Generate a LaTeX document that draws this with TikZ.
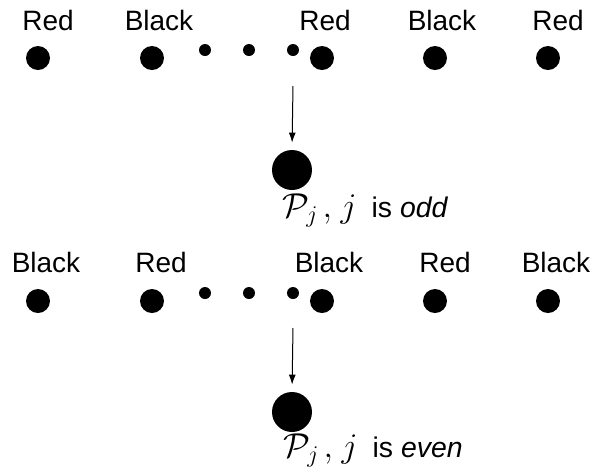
\documentclass[tikz,border=0pt]{standalone}
\usepackage{fontspec}
\setmainfont{Liberation Sans}
\usetikzlibrary{arrows.meta}
\tikzset{
  bigdot/.style={circle,fill=black,inner sep=0pt,minimum size=12pt},
  smalldot/.style={circle,fill=black,inner sep=0pt,minimum size=6pt},
  hugedot/.style={circle,fill=black,inner sep=0pt,minimum size=20pt},
  lbl/.style={anchor=base,inner sep=0pt,font=\fontsize{14pt}{17pt}\selectfont},
  caplbl/.style={anchor=base west,inner sep=0pt,font=\fontsize{14.2pt}{17pt}\selectfont},
  arr/.style={line width=0.5pt,-{Latex[length=5pt,width=3.5pt]},shorten >=3.5pt}
}
\newcommand{\pjlabel}{{\fontsize{17pt}{20pt}\selectfont$\mathcal{P}_j\hspace{2pt},\hspace{1.5pt}j$}\hspace{7.5pt}}
\begin{document}
\begin{tikzpicture}[x=0.5pt,y=-0.5pt]
\useasboundingbox (0,0) rectangle (591,468);
% top row
\node[lbl] (t1) at (48,30) {Red};
\node[lbl] (t2) at (159,30) {Black};
\node[lbl] (t3) at (325,30) {Red};
\node[lbl] (t4) at (442,30) {Black};
\node[lbl] (t5) at (558,30) {Red};
\node[bigdot] (a1) at (38,58) {};
\node[bigdot] (a2) at (152,58) {};
\node[bigdot] (a3) at (322,58) {};
\node[bigdot] (a4) at (435,58) {};
\node[bigdot] (a5) at (548,58) {};
\node[smalldot] (d1) at (205,50) {};
\node[smalldot] (d2) at (249,50) {};
\node[smalldot] (d3) at (293,50) {};
\coordinate (s1) at (293,86);
\node[hugedot] (P1) at (292,170) {};
\draw[arr] (s1) -- (P1.north);
\node[caplbl] (c1) at (282,217) {\pjlabel is \textit{odd}};
% bottom row
\node[lbl] (b1) at (46,272) {Black};
\node[lbl] (b2) at (161,272) {Red};
\node[lbl] (b3) at (329,272) {Black};
\node[lbl] (b4) at (445,272) {Red};
\node[lbl] (b5) at (556,272) {Black};
\node[bigdot] (e1) at (38,301) {};
\node[bigdot] (e2) at (152,301) {};
\node[bigdot] (e3) at (322,301) {};
\node[bigdot] (e4) at (435,301) {};
\node[bigdot] (e5) at (548,301) {};
\node[smalldot] (f1) at (205,293) {};
\node[smalldot] (f2) at (249,293) {};
\node[smalldot] (f3) at (293,293) {};
\coordinate (s2) at (293,328);
\node[hugedot] (P2) at (292,412) {};
\draw[arr] (s2) -- (P2.north);
\node[caplbl] (c2) at (283,457) {\pjlabel is \textit{even}};
\end{tikzpicture}
\end{document}
